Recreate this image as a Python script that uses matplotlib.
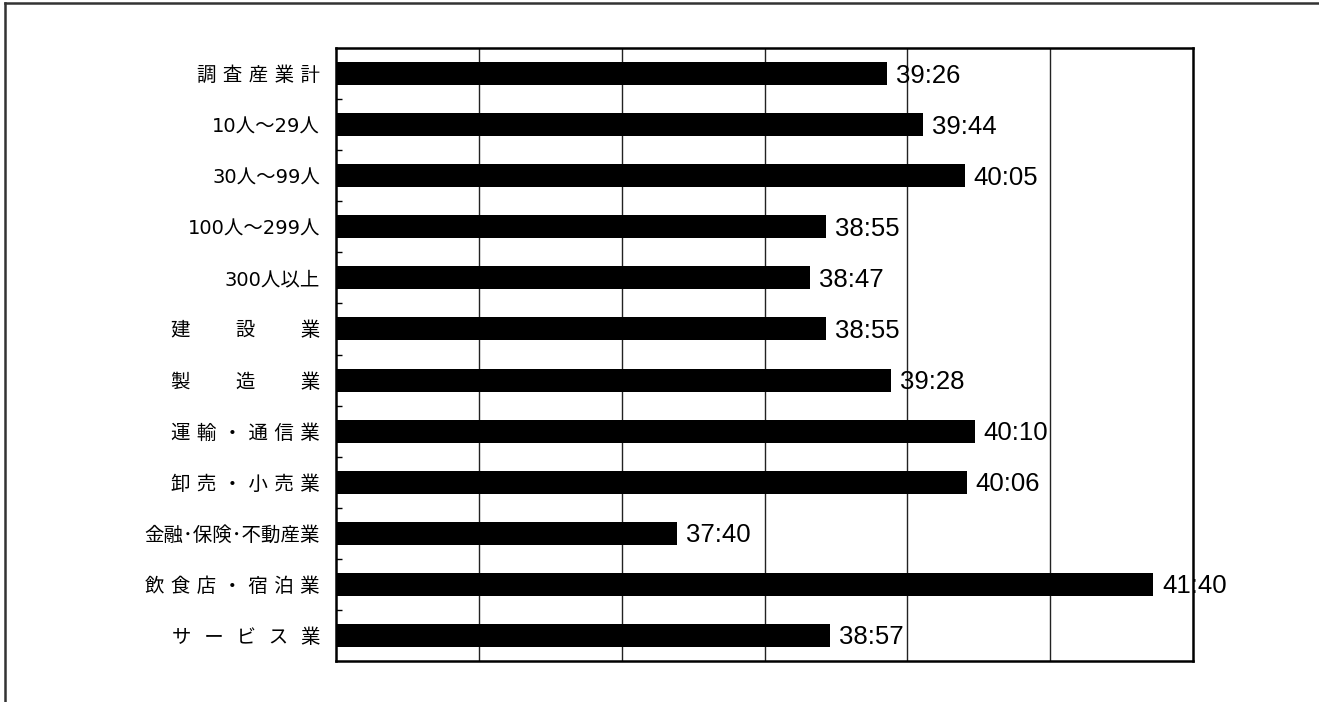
import matplotlib
matplotlib.use("Agg")
import matplotlib.pyplot as plt
from matplotlib.lines import Line2D
from matplotlib.ticker import FixedLocator

# Average weekly working hours (h:mm) by establishment size and industry
categories = [
    "調\u2004査\u2004産\u2004業\u2004計",
    "10人～29人",
    "30人～99人",
    "100人～299人",
    "300人以上",
    "建\u3000\u3000\u2004設\u3000\u3000\u2004業",
    "製\u3000\u3000\u2004造\u3000\u3000\u2004業",
    "運\u2004輸\u2004・\u2004通\u2004信\u2004業",
    "卸\u2004売\u2004・\u2004小\u2004売\u2004業",
    "金融･保険･不動産業",
    "飲\u2004食\u2004店\u2004・\u2004宿\u2004泊\u2004業",
    "サ\u2004\u2004ー\u2004\u2004ビ\u2004\u2004ス\u2004\u2004業",
]
hours_text = ["39:26", "39:44", "40:05", "38:55", "38:47", "38:55",
              "39:28", "40:10", "40:06", "37:40", "41:40", "38:57"]

# axis range and grid spacing (h:mm)
axis_min = "34:48"
axis_max = "42:00"
grid_step_min = 72


def to_hours(s):
    h, m = s.split(":")
    return int(h) + int(m) / 60.0


values = [to_hours(s) for s in hours_text]
x0, x1 = to_hours(axis_min), to_hours(axis_max)

W, H, DPI = 1319, 702, 100
fig = plt.figure(figsize=(W / DPI, H / DPI), dpi=DPI)
fig.patch.set_facecolor("white")

left, right, top, bottom = 336, 1193, 48, 661
ax = fig.add_axes([left / W, 1 - bottom / H, (right - left) / W, (bottom - top) / H])

y = list(range(len(categories)))
ax.barh(y, values, height=0.45, color="black", zorder=3)

ax.set_xlim(x0, x1)
ax.set_ylim(len(categories) - 0.5, -0.5)

# vertical gridlines
grid_x = []
g = x0 + grid_step_min / 60.0
while g < x1 - 1e-9:
    grid_x.append(g)
    g += grid_step_min / 60.0
ax.set_xticks(grid_x)
ax.tick_params(axis="x", length=0, labelbottom=False)
ax.grid(axis="x", color="#222222", linewidth=1.0, zorder=1)

# category labels and inward boundary ticks
ax.set_yticks(y)
ax.set_yticklabels(categories, family=["DejaVu Sans", "Noto Sans CJK JP"],
                   fontsize=14)
ax.tick_params(axis="y", which="major", length=0, pad=11.5)
ax.yaxis.set_minor_locator(FixedLocator([i + 0.5 for i in y[:-1]]))
ax.tick_params(axis="y", which="minor", direction="in", length=4.5,
               width=1.0, color="black")

for sp in ax.spines.values():
    sp.set_linewidth(1.8)
    sp.set_color("black")

# value labels
for yi, v, s in zip(y, values, hours_text):
    ax.annotate(s, (v, yi), xytext=(9, -2), textcoords="offset pixels",
                ha="left", va="center", fontsize=18.5,
                family="Liberation Sans", color="black", zorder=4,
                annotation_clip=False)

# page frame (left and top edges)
fig.add_artist(Line2D([5 / W, 5 / W], [0, 1 - 3 / H], transform=fig.transFigure,
                      color="#333333", linewidth=1.8))
fig.add_artist(Line2D([5 / W, 1], [1 - 3 / H, 1 - 3 / H], transform=fig.transFigure,
                      color="#333333", linewidth=1.8))

fig.savefig("out.png", dpi=DPI, facecolor="white")
